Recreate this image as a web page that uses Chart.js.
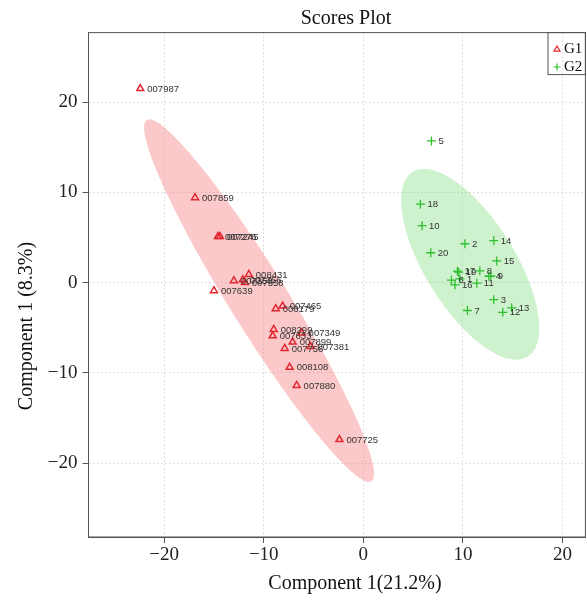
<!DOCTYPE html>
<html><head><meta charset="utf-8">
<script src="https://cdn.jsdelivr.net/npm/chart.js@4"></script>
<style>html,body{margin:0;padding:0;background:#fff;}#wrap{width:587px;height:601px;}</style>
</head><body><div id="wrap"><canvas id="c" width="587" height="601"></canvas></div>
<script>
const chartTitle = 'Scores Plot';
const xAxisTitle = 'Component 1(21.2%)';
const yAxisTitle = 'Component 1 (8.3%)';
const groupNames = ['G1', 'G2'];

const g1Labels = ['007987','007859','007276','007245','008431','007350','007356','007558','007639','007465','008179','008299','007633','007349','007899','007381','007756','008108','007880','007725'];
const g1X = [-22.4,-16.9,-14.6,-14.4,-11.5,-13.0,-12.1,-11.9,-15.0,-8.1,-8.8,-9.0,-9.1,-6.2,-7.1,-5.3,-7.9,-7.4,-6.7,-2.4];
const g1Y = [21.5,9.4,5.1,5.1,0.9,0.2,0.3,0.0,-0.9,-2.6,-2.9,-5.2,-5.9,-5.6,-6.6,-7.1,-7.3,-9.4,-11.4,-17.4];

const g2Labels = ['5','18','10','2','14','20','15','17','19','8','4','9','6','1','16','11','3','7','13','12'];
const g2X = [6.84,5.73,5.9,10.2,13.1,6.77,13.4,9.45,9.58,11.7,12.6,12.8,8.85,9.7,9.2,11.4,13.1,10.45,14.9,14.0];
const g2Y = [15.7,8.68,6.3,4.3,4.65,3.3,2.4,1.26,1.15,1.3,0.7,0.7,0.27,0.4,-0.25,-0.07,-1.9,-3.1,-2.8,-3.3];

const xTickValues = [-20,-10,0,10,20];
const yTickValues = [-20,-10,0,10,20];

// confidence ellipses (data units): centre x, centre y, half-axis vector 1 (x,y), half-axis vector 2 (x,y)
const g1Ellipse = [-10.47, -2.0, 11.28, -20.02, 2.475, 1.695];
const g2Ellipse = [10.73, 2.02, 5.77, -10.24, 3.84, 2.64];

const RED = '#e3262f';
const GREEN = '#2fbf2f';
const RED_FILL = 'rgba(244,120,120,0.4)';
const GREEN_FILL = 'rgba(120,220,120,0.36)';

const fmt = v => (v < 0 ? '\u2212' + Math.abs(v) : String(v));
const toPts = (xs, ys) => xs.map((v, i) => ({x: v, y: ys[i]}));

const ellipsePlugin = {
  id: 'ellipses',
  beforeDatasetsDraw(chart) {
    const {ctx, chartArea: a, scales: {x, y}} = chart;
    ctx.save();
    ctx.beginPath(); ctx.rect(a.left, a.top, a.width, a.height); ctx.clip();
    [[g1Ellipse, RED_FILL], [g2Ellipse, GREEN_FILL]].forEach(([e, fill]) => {
      ctx.beginPath();
      for (let i = 0; i <= 240; i++) {
        const t = i / 240 * 2 * Math.PI;
        const dx = e[0] + e[2] * Math.cos(t) + e[4] * Math.sin(t);
        const dy = e[1] + e[3] * Math.cos(t) + e[5] * Math.sin(t);
        const px = x.getPixelForValue(dx), py = y.getPixelForValue(dy);
        if (i === 0) ctx.moveTo(px, py); else ctx.lineTo(px, py);
      }
      ctx.closePath();
      ctx.fillStyle = fill;
      ctx.fill();
    });
    ctx.restore();
  }
};

const labelPlugin = {
  id: 'pointLabels',
  afterDatasetsDraw(chart) {
    const ctx = chart.ctx;
    ctx.save();
    ctx.font = '9.5px "Liberation Sans", Arial, sans-serif';
    ctx.fillStyle = '#333';
    ctx.textAlign = 'left';
    ctx.textBaseline = 'middle';
    [g1Labels, g2Labels].forEach((labels, di) => {
      const meta = chart.getDatasetMeta(di);
      meta.data.forEach((pt, i) => ctx.fillText(labels[i], pt.x + 7, pt.y + 0.5));
    });
    ctx.restore();
  }
};

const decoPlugin = {
  id: 'deco',
  afterDraw(chart) {
    const {ctx, chartArea: a} = chart;
    ctx.save();
    ctx.strokeStyle = '#555';
    ctx.lineWidth = 1;
    ctx.strokeRect(a.left, a.top, a.right - a.left, a.bottom - a.top);
    ctx.fillStyle = '#111';
    ctx.font = '20px "Liberation Serif", "Times New Roman", serif';
    ctx.textAlign = 'center';
    ctx.textBaseline = 'middle';
    ctx.fillText(chartTitle, 346, 19);
    ctx.fillText(xAxisTitle, 355, 584);
    ctx.save();
    ctx.translate(27, 326);
    ctx.rotate(-Math.PI / 2);
    ctx.fillText(yAxisTitle, 0, 0);
    ctx.restore();
    // legend
    const lx = 548, ly = a.top;
    ctx.strokeStyle = '#555';
    ctx.strokeRect(lx, ly, a.right - lx, 42);
    ctx.font = '15px "Liberation Serif", "Times New Roman", serif';
    ctx.textAlign = 'left';
    ctx.strokeStyle = RED; ctx.lineWidth = 1.2;
    ctx.beginPath();
    ctx.moveTo(557, 46); ctx.lineTo(560, 51.2); ctx.lineTo(554, 51.2); ctx.closePath(); ctx.stroke();
    ctx.fillStyle = '#111';
    ctx.fillText(groupNames[0], 564, 49);
    ctx.strokeStyle = GREEN;
    ctx.beginPath();
    ctx.moveTo(553.5, 67); ctx.lineTo(560.5, 67); ctx.moveTo(557, 63.5); ctx.lineTo(557, 70.5); ctx.stroke();
    ctx.fillText(groupNames[1], 564, 67);
    ctx.restore();
  }
};

const tickFont = {family: '"Liberation Serif", "Times New Roman", serif', size: 19};

new Chart(document.getElementById('c'), {
  type: 'scatter',
  data: {
    datasets: [
      {label: groupNames[0], data: toPts(g1X, g1Y), pointStyle: 'triangle', radius: 4, borderColor: RED, backgroundColor: 'rgba(0,0,0,0)', borderWidth: 1.5},
      {label: groupNames[1], data: toPts(g2X, g2Y), pointStyle: 'cross', radius: 4.5, borderColor: GREEN, backgroundColor: GREEN, borderWidth: 1.3}
    ]
  },
  options: {
    responsive: false,
    animation: false,
    devicePixelRatio: 1,
    layout: {autoPadding: false, padding: {top: 32.6, right: 1.6, left: 0, bottom: 0}},
    plugins: {legend: {display: false}, title: {display: false}, tooltip: {enabled: false}},
    scales: {
      x: {
        type: 'linear', min: -27.6, max: 22.3,
        afterBuildTicks: s => { s.ticks = xTickValues.map(v => ({value: v})); },
        afterFit: s => { s.height = 64; },
        ticks: {callback: v => fmt(v), font: tickFont, color: '#222', padding: 1, maxRotation: 0, autoSkip: false},
        grid: {color: '#d6d6d6', lineWidth: 1, tickColor: '#555', tickLength: 6, tickBorderDash: []},
        border: {color: '#555', width: 1, dash: [1.5, 2.5]}
      },
      y: {
        type: 'linear', min: -28.2, max: 27.7,
        afterBuildTicks: s => { s.ticks = yTickValues.map(v => ({value: v})); },
        afterFit: s => { s.width = 88.5; },
        ticks: {callback: v => fmt(v), font: tickFont, color: '#222', padding: 5, autoSkip: false},
        grid: {color: '#d6d6d6', lineWidth: 1, tickColor: '#555', tickLength: 6, tickBorderDash: []},
        border: {color: '#555', width: 1, dash: [1.5, 2.5]}
      }
    }
  },
  plugins: [ellipsePlugin, labelPlugin, decoPlugin]
});
</script></body></html>
